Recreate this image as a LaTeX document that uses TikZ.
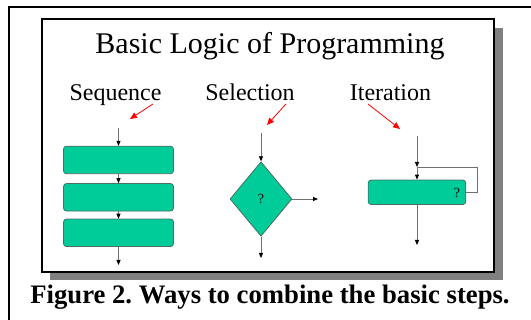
\documentclass[tikz,border=0pt]{standalone}
\usepackage{fontspec}
\setmainfont{Liberation Serif}
\usetikzlibrary{arrows.meta,shapes.geometric}
\definecolor{boxgreen}{HTML}{00CC99}
\definecolor{boxedge}{HTML}{4A6E62}
\definecolor{linegray}{HTML}{707070}
\definecolor{shadowgray}{HTML}{808080}
\frenchspacing
\tikzset{
  stepbox/.style={draw=boxedge, fill=boxgreen, rounded corners=3pt, line width=0.8pt, inner sep=0pt},
  flow/.style={draw=linegray, line width=0.8pt, -{Triangle[length=5pt,width=4pt,color=black]}},
  flowline/.style={draw=linegray, line width=0.8pt},
  pointer/.style={draw=red, line width=0.8pt, -{Triangle[length=7pt,width=6pt,color=red]}},
  heading/.style={font=\fontsize{24}{28}\selectfont, anchor=base, inner sep=0pt}
}
\begin{document}
\begin{tikzpicture}[x=1pt,y=-1pt]
\useasboundingbox (0,0) rectangle (531,320);
\fill[white] (0,0) rectangle (531,320);
% outer frame
\draw[line width=2pt] (9,320) -- (9,7) -- (531,7);
% slide with shadow
\fill[shadowgray] (50,28) rectangle (503,280);
\draw[fill=white, line width=1.2pt] (42,19) rectangle (494,272);
% title and headings
\node[anchor=base, inner sep=0pt, font=\fontsize{30}{36}\selectfont] (title) at (270,54) {Basic Logic of Programming};
\node[heading] (seq) at (115.5,101) {Sequence};
\node[heading] (sel) at (250,101) {Selection};
\node[heading] (ite) at (390.5,101) {Iteration};
% red pointers
\coordinate (p1a) at (153,104); \coordinate (p1b) at (130,119);
\coordinate (p2a) at (286,104); \coordinate (p2b) at (267,125);
\coordinate (p3a) at (368,104); \coordinate (p3b) at (400,129);
\draw[pointer] (p1a) -- (p1b);
\draw[pointer] (p2a) -- (p2b);
\draw[pointer] (p3a) -- (p3b);
% sequence
\node[stepbox, minimum width=110pt, minimum height=27.5pt] (s1) at (118.5,160) {};
\node[stepbox, minimum width=110pt, minimum height=27.5pt] (s2) at (118.5,197.3) {};
\node[stepbox, minimum width=110pt, minimum height=27.5pt] (s3) at (118.5,232.8) {};
\coordinate (s0) at (118.5,128);
\coordinate (s4) at (118.5,265);
\draw[flow] (s0) -- (s1.north);
\draw[flow] (s1.south) -- (s2.north);
\draw[flow] (s2.south) -- (s3.north);
\draw[flow] (s3.south) -- (s4);
% selection
\node[diamond, draw=boxedge, fill=boxgreen, line width=0.8pt, inner sep=0pt, aspect=0.83,
      minimum width=62pt, minimum height=74.5pt, font=\fontsize{14}{16}\selectfont] (d) at (261,199) {?};
\coordinate (d0) at (261,133);
\coordinate (d1) at (318,199);
\coordinate (d2) at (261,258);
\draw[flow] (d0) -- (d.north);
\draw[flow] (d.east) -- (d1);
\draw[flow] (d.south) -- (d2);
% iteration
\node[stepbox, minimum width=97.6pt, minimum height=24.5pt] (it) at (417,192.3) {};
\node[inner sep=0pt, font=\fontsize{14}{16}\selectfont] (q) at (457,192.6) {?};
\coordinate (i0) at (417,136);
\coordinate (ij) at (417,167);
\coordinate (ir) at (477.5,167);
\coordinate (i4) at (417,245);
\draw[flow] (i0) -- (ij);
\draw[flowline] (it.east) -| (ir) -- (ij);
\draw[flow] (ij) -- (it.north);
\draw[flow] (it.south) -- (i4);
% caption
\node[anchor=base, inner sep=0pt, font=\bfseries\fontsize{26.7}{30}\selectfont] (cap) at (270,304) {Figure 2. Ways to combine the basic steps.};
\end{tikzpicture}
\end{document}
